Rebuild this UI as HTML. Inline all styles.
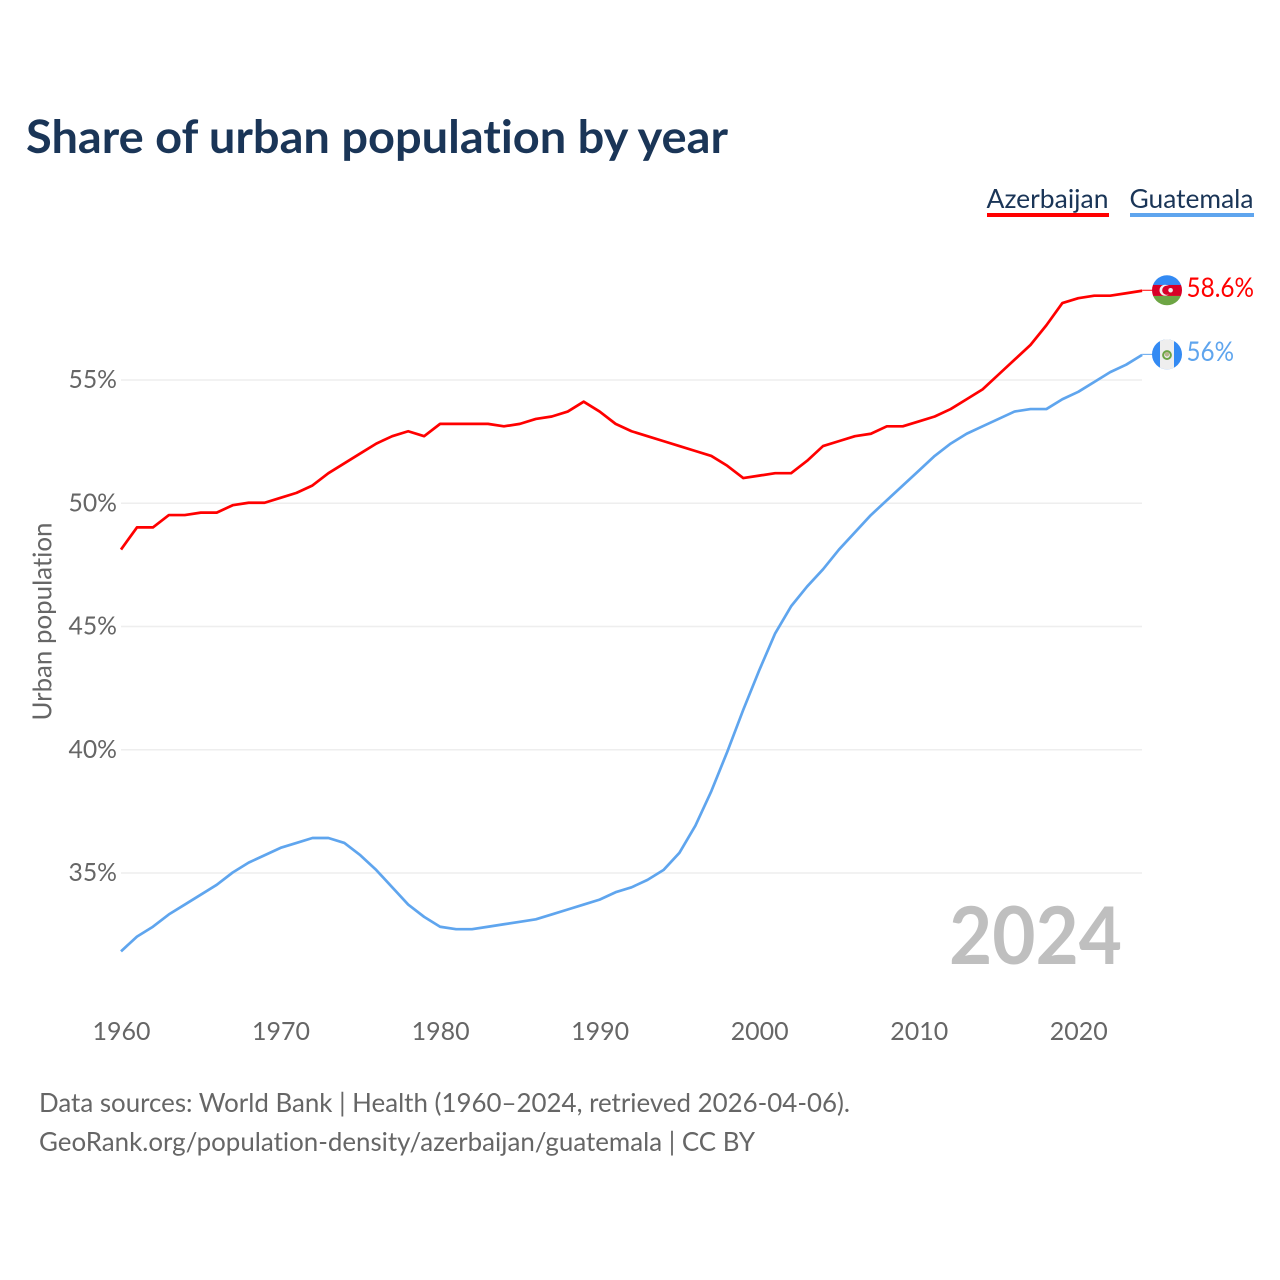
<!DOCTYPE html>
<html lang="en">
<head>
<meta charset="utf-8">
<title>Share of urban population by year</title>
<style>
html,body{margin:0;padding:0;background:#fff;width:1280px;height:1280px;overflow:hidden}
svg{display:block}
text{font-family:"Lato","Carlito","Liberation Sans",sans-serif;font-variant-ligatures:none}
</style>
</head>
<body>
<svg id="chart" xmlns="http://www.w3.org/2000/svg" width="1280" height="1280" viewBox="0 0 1280 1280">
  <defs>
    <clipPath id="flag-clip-az"><circle id="clip-az" cx="1167" cy="290" r="15"/></clipPath>
    <clipPath id="flag-clip-gt"><circle id="clip-gt" cx="1167" cy="355" r="15"/></clipPath>
  </defs>
  <rect width="1280" height="1280" fill="#fff"/>
  <text x="26" y="153" font-size="46" font-weight="700" fill="#1a3557" textLength="702" lengthAdjust="spacingAndGlyphs">Share of urban population by year</text>

  <g>
    <text x="986.5" y="208" font-size="26.5" fill="#1a3557" textLength="122" lengthAdjust="spacingAndGlyphs">Azerbaijan</text>
    <rect x="987" y="213" width="122" height="4" fill="#ff0000"/>
  </g>
  <g>
    <text x="1129.5" y="208" font-size="26.5" fill="#1a3557" textLength="124" lengthAdjust="spacingAndGlyphs">Guatemala</text>
    <rect x="1130" y="213" width="124" height="4" fill="#5fa5ee"/>
  </g>

  <text transform="translate(51.5,621.5) rotate(-90)" text-anchor="middle" font-size="26" fill="#666" textLength="198" lengthAdjust="spacingAndGlyphs">Urban population</text>

  <g id="grid"></g>
  <g id="y-ticks"></g>
  <g id="x-ticks"></g>

  <text x="1122" y="964" text-anchor="end" font-size="80" font-weight="700" fill="#bfbfbf" textLength="173" lengthAdjust="spacingAndGlyphs">2024</text>

  <g id="series" transform="translate(0,-0.5)"></g>

  <g id="flag-az" clip-path="url(#flag-clip-az)"></g>
  <g id="flag-gt" clip-path="url(#flag-clip-gt)"></g>

  <text id="value-az" x="1186.5" font-size="27" fill="#ff0000" textLength="67.5" lengthAdjust="spacingAndGlyphs"></text>
  <text id="value-gt" x="1186.5" font-size="27" fill="#5fa5ee" textLength="47.5" lengthAdjust="spacingAndGlyphs"></text>

  <text x="39" y="1112" font-size="26" fill="#666" textLength="811" lengthAdjust="spacingAndGlyphs">Data sources: World Bank | Health (1960–2024, retrieved 2026-04-06).</text>
  <text x="39" y="1151" font-size="26" fill="#666" textLength="716" lengthAdjust="spacingAndGlyphs">GeoRank.org/population-density/azerbaijan/guatemala | CC BY</text>
</svg>
<script>
const firstYear = 1960;
const azerbaijan = [48.1,49.0,49.0,49.5,49.5,49.6,49.6,49.9,50.0,50.0,50.2,50.4,50.7,51.2,51.6,52.0,52.4,52.7,52.9,52.7,53.2,53.2,53.2,53.2,53.1,53.2,53.4,53.5,53.7,54.1,53.7,53.2,52.9,52.7,52.5,52.3,52.1,51.9,51.5,51.0,51.1,51.2,51.2,51.7,52.3,52.5,52.7,52.8,53.1,53.1,53.3,53.5,53.8,54.2,54.6,55.2,55.8,56.4,57.2,58.1,58.3,58.4,58.4,58.5,58.6];
const guatemala = [31.8,32.4,32.8,33.3,33.7,34.1,34.5,35.0,35.4,35.7,36.0,36.2,36.4,36.4,36.2,35.7,35.1,34.4,33.7,33.2,32.8,32.7,32.7,32.8,32.9,33.0,33.1,33.3,33.5,33.7,33.9,34.2,34.4,34.7,35.1,35.8,36.9,38.3,39.9,41.6,43.2,44.7,45.8,46.6,47.3,48.1,48.8,49.5,50.1,50.7,51.3,51.9,52.4,52.8,53.1,53.4,53.7,53.8,53.8,54.2,54.5,54.9,55.3,55.6,56.0];
const yTicks = [35,40,45,50,55];
const xTicks = [1960,1970,1980,1990,2000,2010,2020];

const NS = 'http://www.w3.org/2000/svg';
function xScale(year){ return 121 + (year - 1960) * 15.955; }
function yScale(v){ return 380 + (55 - v) * 24.65; }
function make(tag, attrs, parent){
  const el = document.createElementNS(NS, tag);
  for (const k in attrs) el.setAttribute(k, attrs[k]);
  parent.appendChild(el);
  return el;
}
const gridG = document.getElementById('grid');
const yG = document.getElementById('y-ticks');
const xG = document.getElementById('x-ticks');
const seriesG = document.getElementById('series');

yTicks.forEach(function(t){
  const line = make('line', {x1:121, x2:1142, y1:yScale(t), y2:yScale(t), stroke:'#eeeeee', 'stroke-width':1.5}, gridG);
  
  
  const label = make('text', {x:117, y:yScale(t)+8, 'text-anchor':'end', 'font-size':25.5, fill:'#666', textLength:48.5, lengthAdjust:'spacingAndGlyphs'}, yG);
  
  
  label.textContent = t + '%';
});

xTicks.forEach(function(t){
  const label = make('text', {x:xScale(t)+0.5, y:1040, 'text-anchor':'middle', 'font-size':25.5, fill:'#666', textLength:58, lengthAdjust:'spacingAndGlyphs'}, xG);
  
  
  label.textContent = t;
});

function pathFor(values){
  return values.map(function(v, i){
    return (i ? 'L' : 'M') + xScale(firstYear + i).toFixed(2) + ' ' + yScale(v).toFixed(2);
  }).join(' ');
}
const azLine = make('path', {d:pathFor(azerbaijan), fill:'none', stroke:'#ff0000', 'stroke-width':2.7, 'stroke-linejoin':'round'}, seriesG);


const gtLine = make('path', {d:pathFor(guatemala), fill:'none', stroke:'#5fa5ee', 'stroke-width':2.7, 'stroke-linejoin':'round'}, seriesG);



const azLast = azerbaijan[azerbaijan.length - 1];
const gtLast = guatemala[guatemala.length - 1];
const azY = yScale(azLast) - 1;
const gtY = yScale(gtLast) - 1;
const lastX = xScale(firstYear + azerbaijan.length - 1);

const azConn = make('line', {x1:lastX, x2:1153, y1:azY + 0.5, y2:azY + 0.5, stroke:'#ff0000', 'stroke-width':1}, seriesG);


const gtConn = make('line', {x1:lastX, x2:1153, y1:gtY + 0.5, y2:gtY + 0.5, stroke:'#5fa5ee', 'stroke-width':1}, seriesG);



document.getElementById('clip-az').setAttribute('cy', azY);
document.getElementById('clip-gt').setAttribute('cy', gtY);

const flagAz = document.getElementById('flag-az');
make('rect', {x:1152, y:azY-15.5, width:30, height:10.5, fill:'#338af3'}, flagAz);
make('rect', {x:1152, y:azY-5.3, width:30, height:11, fill:'#d80027'}, flagAz);
make('rect', {x:1152, y:azY+5.7, width:30, height:10, fill:'#6da544'}, flagAz);
make('circle', {cx:1165, cy:azY, r:5.5, fill:'#f0f0f0'}, flagAz);
make('circle', {cx:1166.8, cy:azY, r:4.6, fill:'#d80027'}, flagAz);
make('circle', {cx:1170.6, cy:azY, r:2.3, fill:'#f0f0f0'}, flagAz);

const flagGt = document.getElementById('flag-gt');
make('rect', {x:1152, y:gtY-15, width:30, height:30, fill:'#338af3'}, flagGt);
make('rect', {x:1160, y:gtY-15, width:14, height:30, fill:'#eeeeee'}, flagGt);
make('circle', {cx:1167, cy:gtY+0.7, r:3.9, fill:'none', stroke:'#6da544', 'stroke-width':2}, flagGt);
make('circle', {cx:1167, cy:gtY, r:2.2, fill:'#b9b38a'}, flagGt);

const azText = document.getElementById('value-az');
azText.setAttribute('y', azY + 6.8);
azText.textContent = azLast + '%';
const gtText = document.getElementById('value-gt');
gtText.setAttribute('y', gtY + 6.8);
gtText.textContent = gtLast + '%';
</script>
</body>
</html>
